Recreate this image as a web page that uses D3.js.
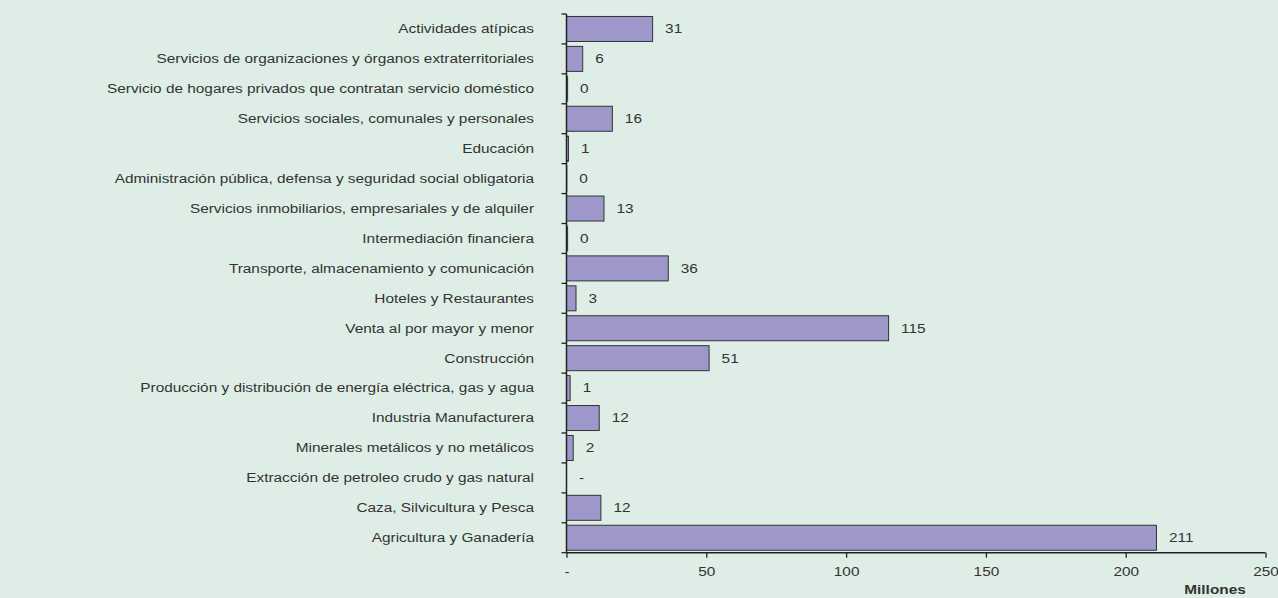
<!DOCTYPE html>
<html>
<head>
<meta charset="utf-8">
<script src="https://cdn.jsdelivr.net/npm/d3@7"></script>
<style>
  html, body { margin: 0; padding: 0; background: #deeee6; }
  svg { display: block; }
  text { font-family: "Liberation Sans", Arial, sans-serif; fill: #333; }
</style>
</head>
<body>
<svg id="chart" width="1278" height="598"></svg>
<script>
const categories = [
  "Actividades atípicas",
  "Servicios de organizaciones y órganos extraterritoriales",
  "Servicio de hogares privados que contratan servicio doméstico",
  "Servicios sociales, comunales y personales",
  "Educación",
  "Administración pública, defensa y seguridad social obligatoria",
  "Servicios inmobiliarios, empresariales y de alquiler",
  "Intermediación financiera",
  "Transporte, almacenamiento y comunicación",
  "Hoteles y Restaurantes",
  "Venta al por mayor y menor",
  "Construcción",
  "Producción y distribución de energía eléctrica, gas y agua",
  "Industria Manufacturera",
  "Minerales metálicos y no metálicos",
  "Extracción de petroleo crudo y gas natural",
  "Caza, Silvicultura y Pesca",
  "Agricultura y Ganadería"
];
const values = [30.8, 5.8, 0.4, 16.4, 0.7, 0.1, 13.4, 0.4, 36.4, 3.4, 115.2, 51.0, 1.3, 11.7, 2.4, 0, 12.3, 211.0];
const xTicks = [0, 50, 100, 150, 200, 250];
const xUnitLabel = "Millones";

const data = categories.map((c, i) => ({ cat: c, v: values[i] }));
const svg = d3.select("#chart");
const FS = 12.5, SX = 1.23;

const x = d3.scaleLinear().domain([0, 250]).range([566.5, 1265.5]);
const y = d3.scaleBand().domain(categories).range([14, 552.7]).paddingInner(0.165).paddingOuter(0.0825);

const fmt = v => v === 0 ? "-" : d3.format(",.0f")(v);

// bars
svg.append("g").selectAll("rect").data(data).join("rect")
  .attr("x", x(0))
  .attr("y", d => y(d.cat))
  .attr("width", d => x(d.v) - x(0))
  .attr("height", y.bandwidth())
  .attr("fill", "#9d98c9")
  .attr("stroke", "#333")
  .attr("stroke-width", 1);

// value labels
svg.append("g").selectAll("text").data(data).join("text")
  .attr("transform", d => `translate(${x(d.v) + 12.5},${y(d.cat) + y.bandwidth() / 2}) scale(${SX},1)`)
  .attr("dy", "0.35em")
  .attr("font-size", FS)
  .text(d => fmt(d.v));

// y axis (category boundary ticks)
const yAxisG = svg.append("g");
yAxisG.append("line")
  .attr("x1", x(0)).attr("x2", x(0))
  .attr("y1", y.range()[0]).attr("y2", y.range()[1])
  .attr("stroke", "#222").attr("stroke-width", 1.5);
const step = y.step();
const bounds = d3.range(categories.length + 1).map(i => y.range()[0] + i * step);
yAxisG.selectAll("line.tk").data(bounds).join("line").attr("class", "tk")
  .attr("x1", x(0) - 5).attr("x2", x(0))
  .attr("y1", d => d).attr("y2", d => d)
  .attr("stroke", "#222").attr("stroke-width", 1.3);

// category labels
svg.append("g").selectAll("text").data(categories).join("text")
  .attr("transform", d => `translate(534,${y(d) + y.bandwidth() / 2}) scale(${SX},1)`)
  .attr("dy", "0.35em")
  .attr("text-anchor", "end")
  .attr("font-size", FS)
  .text(d => d);

// x axis
const xAxis = d3.axisBottom(x).tickValues(xTicks).tickSize(5).tickPadding(9).tickFormat(fmt);
const xg = svg.append("g").attr("transform", `translate(0,${y.range()[1]})`).call(xAxis);
xg.select(".domain").attr("stroke", "#222").attr("stroke-width", 1.5).attr("d", `M${x(0)},0H${x(250)}`);
xg.selectAll(".tick line").attr("stroke", "#222").attr("stroke-width", 1.3);
xg.selectAll(".tick text")
  .attr("font-size", FS)
  .attr("fill", "#333")
  .attr("font-family", "Liberation Sans, Arial, sans-serif")
  .attr("transform", `scale(${SX},1)`);

svg.append("text")
  .attr("transform", `translate(1215,594) scale(${SX},1)`)
  .attr("text-anchor", "middle")
  .attr("font-size", FS)
  .attr("font-weight", "bold")
  .attr("fill", "#222")
  .text(xUnitLabel);
</script>
</body>
</html>
